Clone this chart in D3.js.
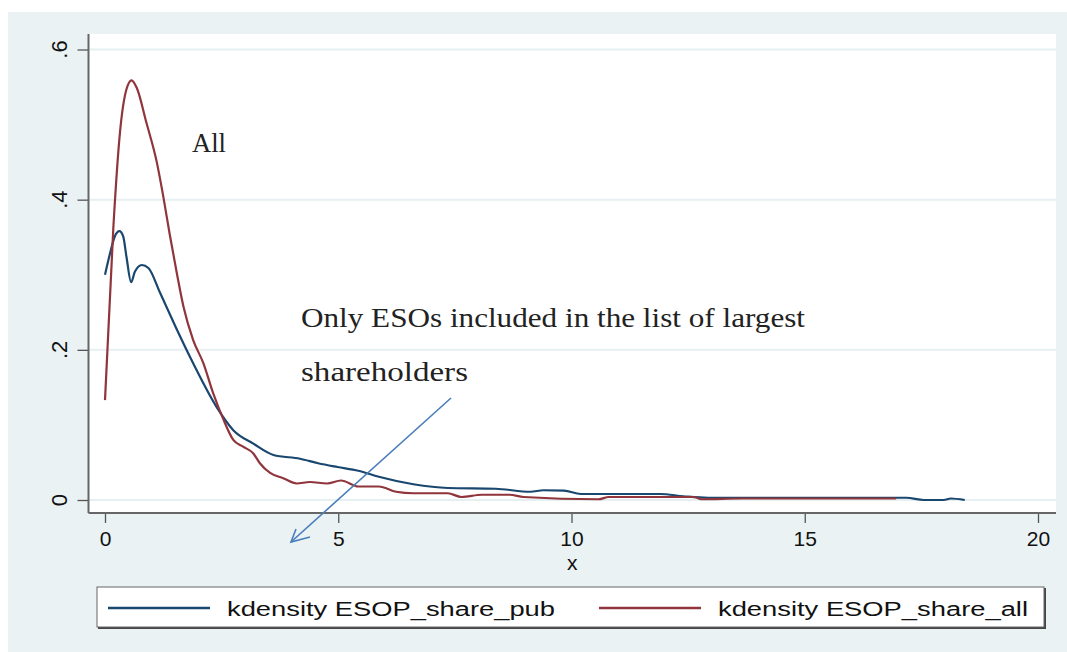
<!DOCTYPE html>
<html>
<head>
<meta charset="utf-8">
<script src="https://cdn.jsdelivr.net/npm/d3@7"></script>
<style>
  body { margin: 0; background: #ffffff; }
  svg { display: block; }
</style>
</head>
<body>
<div id="chart"></div>
<script>
// kernel density of ESOP share
var pub_x = [0, 0.11, 0.21, 0.31, 0.39, 0.46, 0.56, 0.64, 0.79, 0.93, 1.18, 1.54, 1.89, 2.39, 2.75, 3.18, 3.61, 4.18, 4.57, 4.98, 5.43, 5.87, 6.61, 7.35, 8.38, 9.12, 9.40, 9.84, 10.2, 11.9, 12.4, 12.93, 17.18, 17.55, 17.98, 18.13, 18.43];
var pub_y = [0.30, 0.329, 0.351, 0.358, 0.351, 0.324, 0.290, 0.304, 0.313, 0.309, 0.276, 0.227, 0.182, 0.124, 0.093, 0.075, 0.060, 0.055, 0.049, 0.044, 0.039, 0.031, 0.021, 0.016, 0.015, 0.011, 0.013, 0.0125, 0.008, 0.008, 0.005, 0.003, 0.003, 0.0, 0.0, 0.002, 0.0];

var all_x = [0, 0.18, 0.32, 0.46, 0.57, 0.68, 0.89, 1.11, 1.25, 1.39, 1.54, 1.68, 1.89, 2.11, 2.32, 2.54, 2.75, 2.96, 3.18, 3.32, 3.54, 3.82, 4.11, 4.39, 4.76, 5.06, 5.43, 5.87, 6.24, 6.61, 7.35, 7.64, 8.08, 8.67, 8.97, 10.58, 10.8, 12.63, 12.78, 13.66, 16.96];
var all_y = [0.133, 0.364, 0.489, 0.547, 0.559, 0.549, 0.502, 0.450, 0.404, 0.353, 0.302, 0.258, 0.213, 0.182, 0.142, 0.107, 0.080, 0.071, 0.062, 0.049, 0.036, 0.029, 0.022, 0.024, 0.022, 0.026, 0.018, 0.018, 0.011, 0.009, 0.009, 0.004, 0.007, 0.007, 0.004, 0.001, 0.004, 0.004, 0.001, 0.002, 0.002];

var x_ticks = [0, 5, 10, 15, 20];
var y_ticks = [0, 0.2, 0.4, 0.6];
var y_tick_labels = ["0", ".2", ".4", ".6"];
var legend_labels = ["kdensity ESOP_share_pub", "kdensity ESOP_share_all"];
var series_colors = ["#1a476f", "#90353b"];

var width = 1067, height = 652;

var svg = d3.select("#chart").append("svg")
  .attr("width", width)
  .attr("height", height);

// graph region
svg.append("rect")
  .attr("x", 8).attr("y", 12)
  .attr("width", width - 8).attr("height", height - 12)
  .attr("fill", "#eaf2f3");

// plot region
var plot_left = 88.5, plot_right = 1056, plot_top = 34, plot_bottom = 513;
svg.append("rect")
  .attr("x", plot_left).attr("y", plot_top)
  .attr("width", plot_right - plot_left).attr("height", plot_bottom - plot_top)
  .attr("fill", "#ffffff");

var x = d3.scaleLinear().domain([0, 20]).range([105, 1038]);
var y = d3.scaleLinear().domain([0, 0.6]).range([500, 49.5]);

// gridlines
svg.append("g").selectAll("line")
  .data(y_ticks)
  .enter().append("line")
  .attr("x1", plot_left).attr("x2", plot_right)
  .attr("y1", function (d) { return y(d); })
  .attr("y2", function (d) { return y(d); })
  .attr("stroke", "#e6eff1")
  .attr("stroke-width", 2);

// y axis
var y_axis = svg.append("g")
  .attr("transform", "translate(" + plot_left + ",0)")
  .call(d3.axisLeft(y).tickValues(y_ticks).tickSize(11).tickSizeOuter(0)
    .tickFormat(function (d, i) { return y_tick_labels[i]; }));
y_axis.select(".domain").remove();
y_axis.selectAll(".tick line").attr("stroke", "#555").attr("stroke-width", 1.3);
y_axis.selectAll(".tick text").remove();
y_axis.append("line")
  .attr("x1", 0).attr("x2", 0)
  .attr("y1", plot_top).attr("y2", plot_bottom)
  .attr("stroke", "#666").attr("stroke-width", 2);

svg.append("g").selectAll("text")
  .data(y_ticks)
  .enter().append("text")
  .attr("transform", function (d) { return "translate(67," + y(d) + ") rotate(-90)"; })
  .attr("text-anchor", "middle")
  .style("font-family", "Arial, 'Liberation Sans', sans-serif")
  .style("font-size", "22px")
  .attr("fill", "#111")
  .text(function (d, i) { return y_tick_labels[i]; });

// x axis
var x_axis = svg.append("g")
  .attr("transform", "translate(0," + plot_bottom + ")")
  .call(d3.axisBottom(x).tickValues(x_ticks).tickSize(10).tickSizeOuter(0));
x_axis.select(".domain").remove();
x_axis.selectAll(".tick line").attr("stroke", "#555").attr("stroke-width", 1.3);
x_axis.selectAll(".tick text")
  .attr("y", 33)
  .attr("dy", null)
  .style("font-family", "Arial, 'Liberation Sans', sans-serif")
  .style("font-size", "21px")
  .attr("fill", "#111");
x_axis.append("line")
  .attr("x1", plot_left).attr("x2", plot_right)
  .attr("y1", 0).attr("y2", 0)
  .attr("stroke", "#666").attr("stroke-width", 2);

svg.append("text")
  .attr("x", (plot_left + plot_right) / 2)
  .attr("y", 570)
  .attr("text-anchor", "middle")
  .style("font-family", "Arial, 'Liberation Sans', sans-serif")
  .style("font-size", "21px")
  .attr("fill", "#111")
  .text("x");

// density curves
var line = d3.line()
  .curve(d3.curveMonotoneX)
  .x(function (d) { return x(d[0]); })
  .y(function (d) { return y(d[1]); });

var series = [
  d3.zip(pub_x, pub_y),
  d3.zip(all_x, all_y)
];

svg.append("g").selectAll("path")
  .data(series)
  .enter().append("path")
  .attr("d", line)
  .attr("fill", "none")
  .attr("stroke", function (d, i) { return series_colors[i]; })
  .attr("stroke-width", 2.2)
  .attr("stroke-linejoin", "round");

// annotations
var serif = "'Liberation Serif', 'DejaVu Serif', serif";
svg.append("text")
  .attr("x", 192).attr("y", 152)
  .attr("textLength", 34).attr("lengthAdjust", "spacingAndGlyphs")
  .style("font-family", serif).style("font-size", "28px")
  .attr("fill", "#222")
  .text("All");
svg.append("text")
  .attr("x", 301).attr("y", 327)
  .attr("textLength", 504).attr("lengthAdjust", "spacingAndGlyphs")
  .style("font-family", serif).style("font-size", "28px")
  .attr("fill", "#222")
  .text("Only ESOs included in the list of largest");
svg.append("text")
  .attr("x", 301).attr("y", 381)
  .attr("textLength", 167).attr("lengthAdjust", "spacingAndGlyphs")
  .style("font-family", serif).style("font-size", "28px")
  .attr("fill", "#222")
  .text("shareholders");

// arrow
var arrow = svg.append("g")
  .attr("stroke", "#4a7ebb")
  .attr("stroke-width", 1.6)
  .attr("fill", "none");
arrow.append("line")
  .attr("x1", 451).attr("y1", 398)
  .attr("x2", 291).attr("y2", 542);
arrow.append("polyline")
  .attr("points", "296,529 291,542 310,537");

// legend
var legend = svg.append("g");
legend.append("rect")
  .attr("x", 98).attr("y", 588)
  .attr("width", 948).attr("height", 41)
  .attr("fill", "#444");
legend.append("rect")
  .attr("x", 97).attr("y", 587)
  .attr("width", 947).attr("height", 40)
  .attr("fill", "#ffffff")
  .attr("stroke", "#666")
  .attr("stroke-width", 1);

var legend_items = [
  { x1: 108, x2: 210, tx: 227, tl: 328 },
  { x1: 599, x2: 701, tx: 718, tl: 310 }
];
legend.selectAll(".item")
  .data(legend_labels)
  .enter().append("g")
  .attr("class", "item")
  .each(function (d, i) {
    var g = d3.select(this);
    var it = legend_items[i];
    g.append("line")
      .attr("x1", it.x1).attr("x2", it.x2)
      .attr("y1", 608).attr("y2", 608)
      .attr("stroke", series_colors[i])
      .attr("stroke-width", 2.6);
    g.append("text")
      .attr("x", it.tx).attr("y", 616)
      .attr("textLength", it.tl).attr("lengthAdjust", "spacingAndGlyphs")
      .style("font-family", "Arial, 'Liberation Sans', sans-serif")
      .style("font-size", "20px")
      .attr("fill", "#111")
      .text(d);
  });
</script>
</body>
</html>
